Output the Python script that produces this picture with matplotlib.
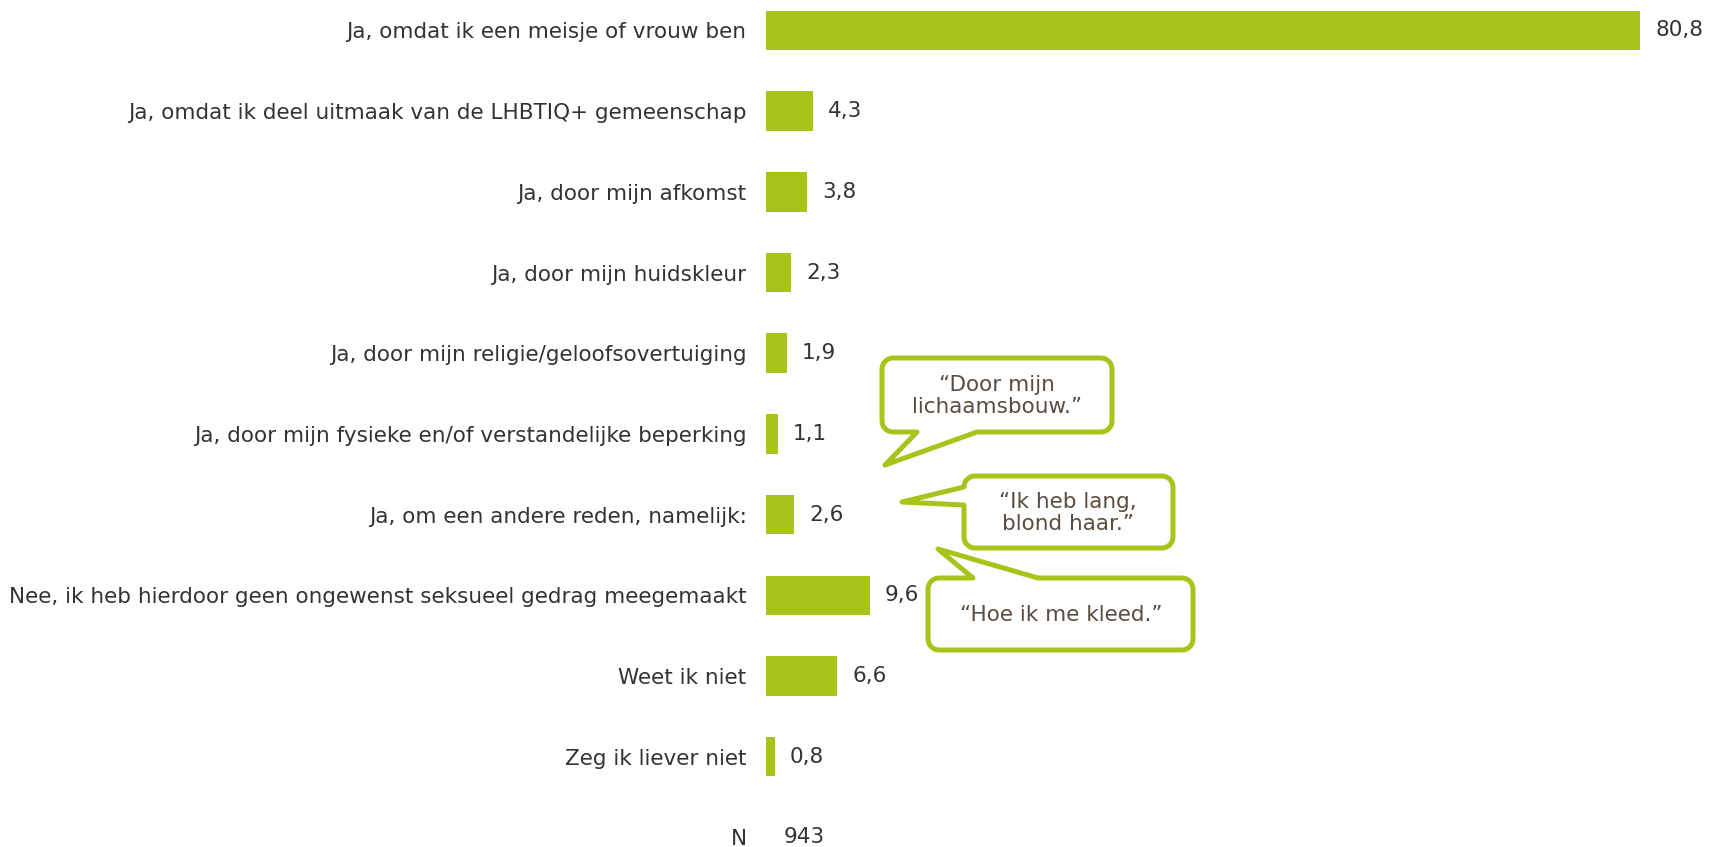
import numpy as np
from matplotlib import pyplot as plt
from matplotlib.patches import Polygon

plt.rcParams['font.family'] = ['DejaVu Sans']

categories = [
    "Ja, omdat ik een meisje of vrouw ben",
    "Ja, omdat ik deel uitmaak van de LHBTIQ+ gemeenschap",
    "Ja, door mijn afkomst",
    "Ja, door mijn huidskleur",
    "Ja, door mijn religie/geloofsovertuiging",
    "Ja, door mijn fysieke en/of verstandelijke beperking",
    "Ja, om een andere reden, namelijk:",
    "Nee, ik heb hierdoor geen ongewenst seksueel gedrag meegemaakt",
    "Weet ik niet",
    "Zeg ik liever niet",
]
values = [80.8, 4.3, 3.8, 2.3, 1.9, 1.1, 2.6, 9.6, 6.6, 0.8]
n_total = 943

quotes = ["\u201cDoor mijn\nlichaamsbouw.\u201d",
          "\u201cIk heb lang,\nblond haar.\u201d",
          "\u201cHoe ik me kleed.\u201d"]

green = '#AAC31A'
txt = '#333333'
qcol = '#5a4c3e'
fs = 15.5

W, H = 1709, 847
fig = plt.figure(figsize=(W / 100, H / 100), dpi=100)
ax = fig.add_axes([766 / W, 0, 1 - 766 / W, 1])

y = np.arange(len(values))
ax.barh(y, values, height=0.49, color=green)
ax.set_xlim(0, (W - 766) / 10.82)
ax.set_ylim(10.12, -0.378)
ax.set_yticks(list(y) + [10])
ax.set_yticklabels(categories + ["N"], fontsize=fs, color=txt)
ax.tick_params(axis='y', length=0, pad=14)
ax.set_xticks([])
for s in ax.spines.values():
    s.set_visible(False)

for yi, v in zip(y, values):
    ax.text(v + 1.4, yi, f"{v:.1f}".replace('.', ','), va='center', ha='left',
            fontsize=fs, color=txt)
ax.text(1.6, 10, str(n_total), va='center', ha='left', fontsize=fs, color=txt)


def arc(cx, cy, r, a0, a1):
    t = np.linspace(np.radians(a0), np.radians(a1), 8)
    return [(cx + r * np.cos(a), cy + r * np.sin(a)) for a in t]


def bubble(x0, y0, x1, y1, side, base, tip, r=11):
    # pixel coords, y down; walk clockwise on screen
    pts = []
    pts += arc(x0 + r, y0 + r, r, 180, 270)
    if side == 'top':
        pts += [(base[0], y0), tip, (base[1], y0)]
    pts += arc(x1 - r, y0 + r, r, 270, 360)
    pts += arc(x1 - r, y1 - r, r, 0, 90)
    if side == 'bottom':
        pts += [(base[1], y1), tip, (base[0], y1)]
    pts += arc(x0 + r, y1 - r, r, 90, 180)
    if side == 'left':
        pts += [(x0, base[1]), tip, (x0, base[0])]
    pts = [(px / W, 1 - py / H) for px, py in pts]
    fig.patches.append(Polygon(pts, closed=True, transform=fig.transFigure,
                               facecolor='white', edgecolor=green, lw=3.6,
                               joinstyle='round'))


bubble(882, 358, 1112, 432, 'bottom', (917, 977), (885, 465))
bubble(964, 476, 1173, 548, 'left', (487, 505), (902, 502))
bubble(928, 578, 1193, 650, 'top', (973, 1038), (938, 549))

for q, (qx, qy) in zip(quotes, [(997, 396), (1068, 513), (1061, 615)]):
    fig.text(qx / W, 1 - qy / H, q, ha='center', va='center', fontsize=fs,
             color=qcol, linespacing=1.15)

fig.savefig('out.png', dpi=100)
